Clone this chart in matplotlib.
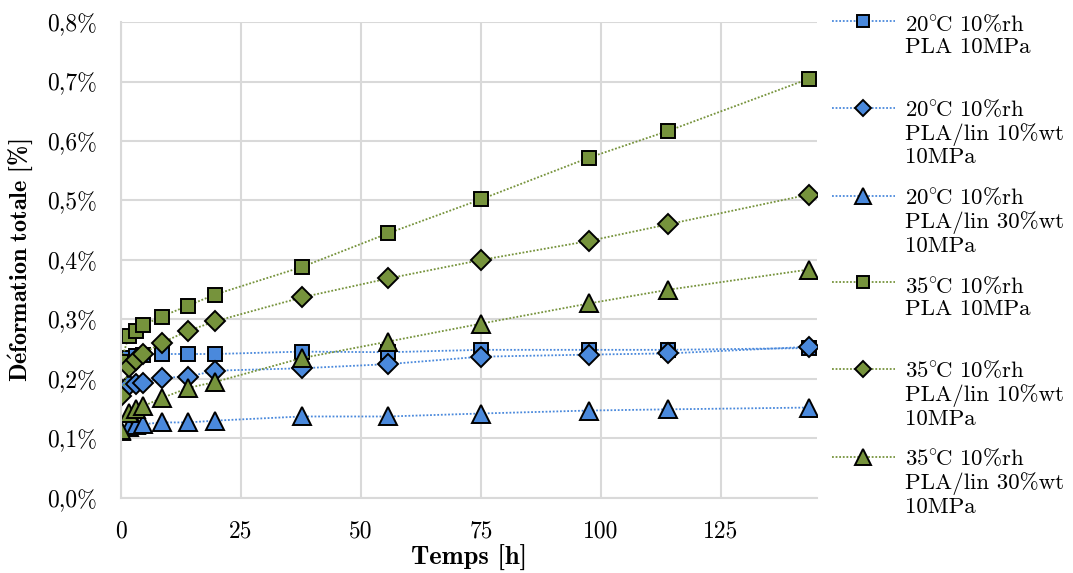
import numpy as np
import matplotlib
matplotlib.use('Agg')
import matplotlib.pyplot as plt
from matplotlib.ticker import FuncFormatter
from matplotlib.legend_handler import HandlerLine2D

plt.rcParams['font.family'] = ['cmr10', 'DejaVu Serif']
plt.rcParams['mathtext.fontset'] = 'cm'
plt.rcParams['axes.unicode_minus'] = False

# temps de mesure [h]
temps = [0, 1.6, 3.1, 4.5, 8.5, 14, 19.6, 37.6, 55.7, 75, 97.5, 114, 143.3]

# deformation totale [%]
pla_20 = [0.232, 0.236, 0.239, 0.241, 0.242, 0.242, 0.242, 0.246, 0.245, 0.249, 0.249, 0.249, 0.252]
lin10_20 = [0.183, 0.190, 0.191, 0.193, 0.202, 0.204, 0.214, 0.218, 0.225, 0.2375, 0.241, 0.243, 0.254]
lin30_20 = [0.113, 0.120, 0.122, 0.124, 0.127, 0.127, 0.130, 0.137, 0.137, 0.142, 0.147, 0.149, 0.152]
pla_35 = [0.229, 0.272, 0.281, 0.290, 0.305, 0.3235, 0.342, 0.388, 0.445, 0.502, 0.572, 0.617, 0.7045]
lin10_35 = [0.171, 0.220, 0.232, 0.242, 0.261, 0.281, 0.297, 0.337, 0.369, 0.400, 0.432, 0.460, 0.510]
lin30_35 = [0.115, 0.143, 0.149, 0.154, 0.168, 0.185, 0.195, 0.235, 0.263, 0.293, 0.327, 0.350, 0.384]

deg20 = r'20$^{\circ}\!$C 10%rh'
deg35 = r'35$^{\circ}\!$C 10%rh'
labels = [deg20 + '\nPLA 10MPa\n ',
          deg20 + '\nPLA/lin 10%wt\n10MPa',
          deg20 + '\nPLA/lin 30%wt\n10MPa',
          deg35 + '\nPLA 10MPa\n ',
          deg35 + '\nPLA/lin 10%wt\n10MPa',
          deg35 + '\nPLA/lin 30%wt\n10MPa']

blue = '#4a89dc'
green = '#76933c'
series = [pla_20, lin10_20, lin30_20, pla_35, lin10_35, lin30_35]
colors = [blue, blue, blue, green, green, green]
markers = ['s', 'D', '^', 's', 'D', '^']
msizes = [10.5, 10, 13, 10.5, 10, 13]


class TopHandler(HandlerLine2D):
    # put the key on the first line of a multi-line label
    def create_artists(self, legend, orig_handle, xdescent, ydescent, width, height, fontsize, trans):
        arts = super().create_artists(legend, orig_handle, xdescent, ydescent, width, height, fontsize, trans)
        for a in arts:
            a.set_ydata(np.asarray(a.get_ydata()) + 18)
        return arts


fig = plt.figure(figsize=(10.73, 5.73), dpi=100)
ax = fig.add_axes([0.1128, 0.1309, 0.6486, 0.8307])

for y, c, m, ms, lab in zip(series, colors, markers, msizes, labels):
    ax.plot(temps, y, color=c, linestyle=(0, (1, 1)), linewidth=1.3, marker=m, markersize=ms,
            markerfacecolor=c, markeredgecolor='black', markeredgewidth=1.4, label=lab)

ax.set_xlim(0, 145)
ax.set_ylim(0, 0.8)
ax.set_xticks([0, 25, 50, 75, 100, 125])
ax.set_yticks(np.arange(0, 0.81, 0.1))
ax.yaxis.set_major_formatter(FuncFormatter(lambda v, p: ('%.1f' % v).replace('.', ',') + '%'))
ax.grid(True, color='#d9d9d9', linewidth=1.5)
ax.set_axisbelow(True)
for s in ['top', 'right']:
    ax.spines[s].set_visible(False)
for s in ['left', 'bottom']:
    ax.spines[s].set_color('#d9d9d9')
    ax.spines[s].set_linewidth(1.5)
ax.tick_params(length=0, labelsize=17)
ax.tick_params(axis='y', pad=17)
ax.tick_params(axis='x', pad=16)

ax.set_xlabel('Temps [h]', fontfamily='cmb10', fontsize=19, labelpad=1.5)
ax.set_ylabel(r'$\mathbf{D\acute{e}formation\ totale}$ [%]', fontfamily='cmb10', fontsize=17.5, labelpad=9)

leg = ax.legend(loc='upper left', bbox_to_anchor=(0.775, 0.976), bbox_transform=fig.transFigure,
                frameon=False, fontsize=16.5, handlelength=2.75, handletextpad=0.45,
                labelspacing=0.84, borderpad=0, borderaxespad=0, markerscale=0.85,
                handler_map={matplotlib.lines.Line2D: TopHandler()})
for t in leg.get_texts():
    t.set_linespacing(1.15)

fig.savefig('out.png', dpi=100)
